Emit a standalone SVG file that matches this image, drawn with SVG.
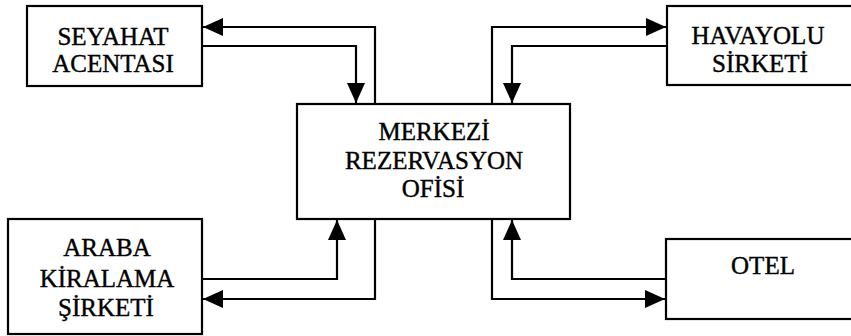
<svg xmlns="http://www.w3.org/2000/svg" width="851" height="336" viewBox="0 0 851 336">
<style>
.box{fill:#fff;stroke:#000;stroke-width:2.2}
.lbl{font-family:"Liberation Serif","Times New Roman",serif;font-size:25px;fill:#000;stroke:#000;stroke-width:0.4;text-anchor:middle}
.con{fill:none;stroke:#000;stroke-width:2.2}
</style>
<defs>
<marker id="ah" markerUnits="userSpaceOnUse" markerWidth="21" markerHeight="18" refX="20" refY="9" orient="auto">
<path d="M0,0 L20,9 L0,18 z" fill="#000"/>
</marker>
</defs>
<rect width="851" height="336" fill="#fff"/>
<g id="connectors">
<path class="con" d="M375,104 V27 H203" marker-end="url(#ah)"/>
<path class="con" d="M202,46 H356 V103" marker-end="url(#ah)"/>
<path class="con" d="M492,104 V27 H666" marker-end="url(#ah)"/>
<path class="con" d="M667,46 H512 V103" marker-end="url(#ah)"/>
<path class="con" d="M202,279 H337 V220" marker-end="url(#ah)"/>
<path class="con" d="M375,219 V299 H203" marker-end="url(#ah)"/>
<path class="con" d="M666,279 H512 V220" marker-end="url(#ah)"/>
<path class="con" d="M492,219 V299 H665" marker-end="url(#ah)"/>
</g>
<g id="seyahat">
<rect class="box" x="27" y="6" width="175" height="80"/>
<text class="lbl" x="113" y="45">SEYAHAT</text>
<text class="lbl" x="113" y="72">ACENTASI</text>
</g>
<g id="merkez">
<rect class="box" x="297" y="104" width="273" height="115"/>
<text class="lbl" x="434" y="140">MERKEZİ</text>
<text class="lbl" x="434" y="169">REZERVASYON</text>
<text class="lbl" x="433" y="197">OFİSİ</text>
</g>
<g id="havayolu">
<rect class="box" x="667" y="6" width="192" height="79"/>
<text class="lbl" x="758" y="44">HAVAYOLU</text>
<text class="lbl" x="760" y="72">SİRKETİ</text>
</g>
<g id="araba">
<rect class="box" x="8" y="219" width="194" height="115"/>
<text class="lbl" x="107" y="256">ARABA</text>
<text class="lbl" x="107" y="287">KİRALAMA</text>
<text class="lbl" x="106" y="316">ŞİRKETİ</text>
</g>
<g id="otel">
<rect class="box" x="666" y="239" width="192" height="80"/>
<text class="lbl" x="763" y="274">OTEL</text>
</g>
</svg>
